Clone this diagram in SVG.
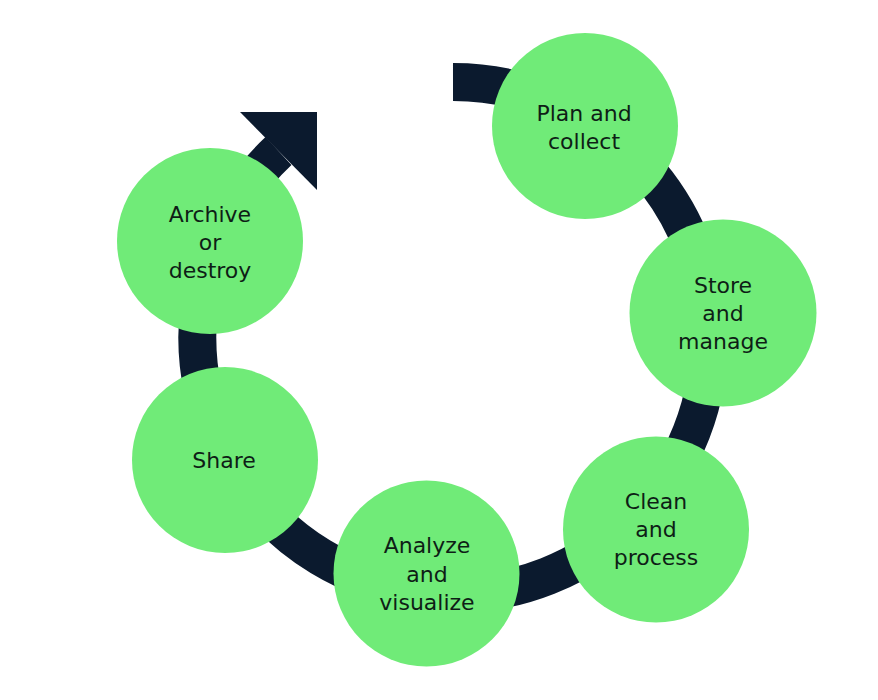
<svg xmlns="http://www.w3.org/2000/svg" width="878" height="700" viewBox="0 0 878 700">
  <style>
    .node circle { fill: #70EB78; }
    .node text { font-family: "DejaVu Sans", "Open Sans", sans-serif; font-size: 22px; fill: #0E1E16; text-anchor: middle; }
    .ring { fill: none; stroke: #0B1A2E; stroke-width: 38; stroke-linecap: butt; }
    .head { fill: #0B1A2E; }
  </style>
  <rect width="878" height="700" fill="#FFFFFF"/>
  <g id="connectors">
    <path class="ring" d="M 453 82 A 256 256 0 1 1 278.5 151"/>
    <polygon class="head" points="240,112 317,112 317,190"/>
  </g>
  <g id="plan-and-collect" class="node">
    <circle cx="585" cy="126" r="93"/>
    <text x="584" y="121">Plan and</text>
    <text x="584" y="149">collect</text>
  </g>
  <g id="store-and-manage" class="node">
    <circle cx="723" cy="313" r="93.5"/>
    <text x="723" y="293">Store</text>
    <text x="723" y="321">and</text>
    <text x="723" y="349">manage</text>
  </g>
  <g id="clean-and-process" class="node">
    <circle cx="656" cy="529.5" r="93"/>
    <text x="656" y="509">Clean</text>
    <text x="656" y="537">and</text>
    <text x="656" y="565">process</text>
  </g>
  <g id="analyze-and-visualize" class="node">
    <circle cx="426.5" cy="573.5" r="93"/>
    <text x="427" y="553">Analyze</text>
    <text x="427" y="582">and</text>
    <text x="427" y="610">visualize</text>
  </g>
  <g id="share" class="node">
    <circle cx="225" cy="460" r="93"/>
    <text x="224" y="468">Share</text>
  </g>
  <g id="archive-or-destroy" class="node">
    <circle cx="210" cy="241" r="93"/>
    <text x="210" y="222">Archive</text>
    <text x="210" y="250">or</text>
    <text x="210" y="278">destroy</text>
  </g>
</svg>
